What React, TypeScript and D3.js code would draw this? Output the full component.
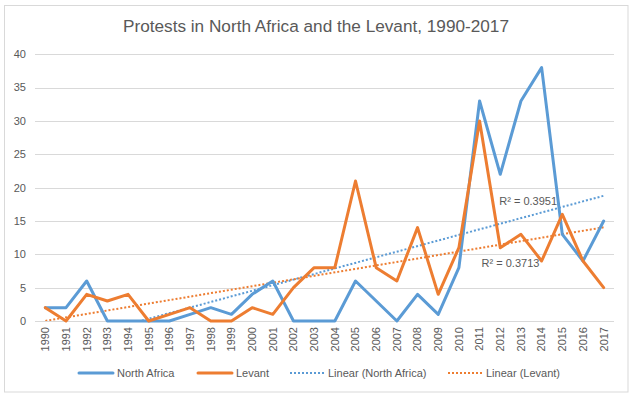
import React from "react";
import * as d3 from "d3";

const years = ["1990","1991","1992","1993","1994","1995","1996","1997","1998","1999","2000","2001","2002","2003","2004","2005","2006","2007","2008","2009","2010","2011","2012","2013","2014","2015","2016","2017"];
const northAfrica = [2,2,6,0,0,0,0,1,2,1,4,6,0,0,0,6,3,0,4,1,8,33,22,33,38,13,9,15];
const levant = [2,0,4,3,4,0,1,2,0,0,2,1,5,8,8,21,8,6,14,4,11,30,11,13,9,16,9,5];
const yTicks = [0,5,10,15,20,25,30,35,40];
const r2Labels = ["R² = 0.3951", "R² = 0.3713"];
const seriesNames = ["North Africa", "Levant", "Linear (North Africa)", "Linear (Levant)"];
const title = "Protests in North Africa and the Levant, 1990-2017";

const W = 634, H = 396;
const FONT = "'Liberation Sans', Arial, sans-serif";
const TXT = "#595959";
const BLUE = "#5B9BD5";
const ORANGE = "#ED7D31";
const GRID = "#D9D9D9";

function linreg(vals: number[]) {
  const n = vals.length;
  const xs = vals.map((_, i) => i + 1);
  const mx = d3.mean(xs)!;
  const my = d3.mean(vals)!;
  let sxy = 0, sxx = 0;
  xs.forEach((x, i) => { sxy += (x - mx) * (vals[i] - my); sxx += (x - mx) * (x - mx); });
  const b = sxy / sxx;
  const a = my - b * mx;
  return { a, b, n };
}

export default function App() {
  const x = d3.scaleBand<string>().domain(years).range([35, 614]).padding(0);
  const xc = (i: number) => x(years[0])! + x.bandwidth() * (i + 0.5);
  const y = d3.scaleLinear().domain([0, 40]).range([321, 54.3]);

  const line = d3.line<number>().x((_, i) => xc(i)).y((d) => y(d));

  const trend = (vals: number[]) => {
    const { a, b, n } = linreg(vals);
    const xl = d3.scaleLinear().domain([1, n]).range([xc(0), xc(n - 1)]);
    return `M${xl(1)},${y(a + b)}L${xl(n)},${y(a + b * n)}`;
  };

  const legendItems = [
    { name: seriesNames[0], color: BLUE, dotted: false, x0: 79 },
    { name: seriesNames[1], color: ORANGE, dotted: false, x0: 198 },
    { name: seriesNames[2], color: BLUE, dotted: true, x0: 290 },
    { name: seriesNames[3], color: ORANGE, dotted: true, x0: 448 },
  ];

  return (
    <svg width={W} height={H} style={{ position: "absolute", left: 0, top: 0, background: "#fff" }} fontFamily={FONT}>
      <defs>
        <clipPath id="plot">
          <rect x={35} y={54.3} width={579} height={321 - 54.3} />
        </clipPath>
      </defs>
      <rect x={4.5} y={5.5} width={623.5} height={386.5} fill="#fff" stroke={GRID} strokeWidth={1} />
      <text x={316} y={32} textAnchor="middle" fontSize={17.2} fill={TXT}>{title}</text>

      {yTicks.map((t) => (
        <g key={t}>
          <line x1={35} x2={614} y1={Math.round(y(t)) + 0.5} y2={Math.round(y(t)) + 0.5} stroke={GRID} strokeWidth={1} />
          <text x={26} y={y(t)} dy="0.35em" textAnchor="end" fontSize={11} fill={TXT}>{t}</text>
        </g>
      ))}

      {years.map((yr, i) => (
        <text key={yr} transform={`translate(${xc(i)},327) rotate(-90)`} dy="0.35em" textAnchor="end" fontSize={11} fill={TXT}>{yr}</text>
      ))}

      <g clipPath="url(#plot)">
        <path d={trend(northAfrica)} fill="none" stroke={BLUE} strokeWidth={2} strokeDasharray="2 2" />
        <path d={trend(levant)} fill="none" stroke={ORANGE} strokeWidth={2} strokeDasharray="2 2" />
      </g>

      <path d={line(northAfrica)!} fill="none" stroke={BLUE} strokeWidth={3} strokeLinejoin="round" strokeLinecap="round" />
      <path d={line(levant)!} fill="none" stroke={ORANGE} strokeWidth={3} strokeLinejoin="round" strokeLinecap="round" />

      <text x={xc(22) - 1} y={y(18)} dy="0.35em" fontSize={11} fill={TXT}>{r2Labels[0]}</text>
      <text x={xc(21) + 2} y={y(8.7)} dy="0.35em" fontSize={11} fill={TXT}>{r2Labels[1]}</text>

      {legendItems.map((it) => (
        <g key={it.name}>
          <line x1={it.x0} x2={it.x0 + 34} y1={373} y2={373} stroke={it.color} strokeWidth={it.dotted ? 2 : 3} strokeDasharray={it.dotted ? "2 2" : undefined} strokeLinecap={it.dotted ? "butt" : "round"} />
          <text x={it.x0 + 38} y={373} dy="0.35em" fontSize={11} fill={TXT}>{it.name}</text>
        </g>
      ))}
    </svg>
  );
}
